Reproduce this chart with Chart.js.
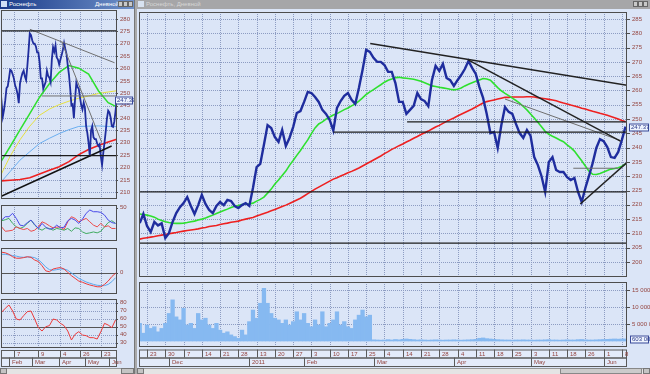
<!DOCTYPE html>
<html><head><meta charset="utf-8">
<script src="https://cdn.jsdelivr.net/npm/chart.js@4.4.1/dist/chart.umd.min.js"></script>
<style>
html,body{margin:0;padding:0}
body{width:650px;height:374px;background:#bdbdbd;position:relative;overflow:hidden;font-family:'Liberation Sans',Arial,sans-serif}
.a{position:absolute}
canvas{position:absolute}
.btn{position:absolute;top:1px;width:5px;height:6px;background:#c8c8c8;border:1px solid #666;box-sizing:border-box}
</style></head><body>
<div class="a" style="left:0;top:0;width:134px;height:368px;background:#dbe5f7"></div>
<div class="a" style="left:137px;top:0;width:513px;height:368px;background:#dbe5f7"></div>
<div class="a" style="left:134px;top:0;width:3px;height:374px;background:#a9a9a9;border-left:1px solid #777;box-sizing:border-box"></div>

<div class="a" style="left:0;top:0;width:134px;height:9px;background:linear-gradient(90deg,#1a3b8a,#6e90c8);color:#fff;font-size:6px;line-height:9px">
  <span class="a" style="left:1px;top:1px;width:6px;height:6px;background:#cfe0f6"></span>
  <span class="a" style="left:9px;top:0">Роснефть</span>
  <span class="a" style="left:95px;top:0">Дневной</span>
  <span class="btn" style="left:118px"></span><span class="btn" style="left:123px"></span><span class="btn" style="left:128px"></span>
</div>
<div class="a" style="left:137px;top:0;width:513px;height:9px;background:#a6a6a8;color:#d6d6d6;font-size:6px;line-height:9px">
  <span class="a" style="left:1px;top:1px;width:6px;height:6px;background:#d8e2f0"></span>
  <span class="a" style="left:9px;top:0">Роснефть, Дневной</span>
  <span class="btn" style="left:496px"></span><span class="btn" style="left:501px"></span><span class="btn" style="left:506px"></span>
</div>

<div class="a" style="left:0;top:368px;width:134px;height:6px;background:#e4e4e4;border-top:1px solid #999;box-sizing:border-box"></div>
<div class="a" style="left:0;top:368px;width:7px;height:6px;background:#c4c4c4;border:1px solid #777;box-sizing:border-box"></div>
<div class="a" style="left:121px;top:368px;width:13px;height:6px;background:#c4c4c4;border:1px solid #777;box-sizing:border-box"></div>
<div class="a" style="left:137px;top:368px;width:513px;height:6px;background:#e4e4e4;border-top:1px solid #999;box-sizing:border-box"></div>
<div class="a" style="left:137px;top:368px;width:7px;height:6px;background:#c4c4c4;border:1px solid #777;box-sizing:border-box"></div>
<div class="a" style="left:560px;top:368px;width:82px;height:6px;background:#cbcbcb;border:1px solid #888;box-sizing:border-box"></div>
<div class="a" style="left:643px;top:368px;width:7px;height:6px;background:#c4c4c4;border:1px solid #777;box-sizing:border-box"></div>

<canvas id="lp" width="134" height="192" style="left:0;top:9px"></canvas>
<canvas id="l1" width="134" height="40" style="left:0;top:203px"></canvas>
<canvas id="l2" width="134" height="50" style="left:0;top:246px"></canvas>
<canvas id="l3" width="134" height="71" style="left:0;top:297px"></canvas>
<canvas id="mp" width="513" height="269" style="left:137px;top:10px"></canvas>
<canvas id="mv" width="513" height="88" style="left:137px;top:280px"></canvas>

<script>
// ---------------- DATA ----------------
// trading-day index 0..133 (19 Nov 2010 .. 9 Jun 2011)
const price = [213.6,216.8,212.6,210.5,214.0,212.8,213.5,208.4,210.1,214.0,
217.1,219.2,220.6,222.7,219.6,216.8,219.9,223.5,220.3,218.2,
217.1,219.6,221.0,219.9,221.7,221.3,219.6,218.9,219.9,220.6,
219.6,225.9,233.2,234.3,241.0,247.9,246.9,243.7,242.0,246.2,
240.6,243.4,247.2,252.1,252.8,256.0,259.5,259.1,257.7,256.0,
253.2,251.8,249.7,246.0,253.9,256.3,258.1,259.1,256.7,255.3,
260.9,267.2,274.2,273.5,271.4,270.0,270.0,268.9,266.5,266.5,
262.6,256.0,256.0,251.8,253.2,254.6,259.1,257.0,256.3,254.5,
263.6,268.6,266.8,269.3,264.4,263.6,261.6,263.6,265.4,267.5,
270.3,267.9,265.8,261.2,257.4,251.8,245.1,245.5,239.9,247.9,
254.2,252.5,251.8,248.3,245.1,243.4,246.2,244.1,236.7,233.9,
230.0,224.5,235.0,236.7,232.2,231.5,231.5,229.7,228.7,229.4,
224.5,221.0,225.9,230.1,234.6,239.9,243.0,242.3,240.2,236.7,
236.4,238.5,242.7,247.37];
const maGreen = [216.8,216.6,216.4,216.1,215.7,215.0,214.5,214.1,213.8,213.6,
213.5,213.5,213.6,213.8,214.1,214.3,214.7,215.0,215.4,215.9,
216.4,217.0,217.5,218.0,218.5,219.1,219.5,219.8,220.1,220.3,
220.3,220.6,221.3,221.9,222.7,224.1,225.5,227.3,228.7,230.3,
231.8,233.8,235.5,237.3,239.0,240.9,242.7,244.9,246.9,248.3,
249.0,250.0,250.7,251.4,251.9,252.6,253.3,253.9,254.6,255.3,
256.3,257.4,258.6,259.5,260.3,261.2,262.0,262.9,263.6,264.0,
264.5,264.6,264.4,264.3,264.1,263.9,263.6,263.2,262.7,262.2,
261.6,261.4,261.1,260.9,260.7,260.4,260.2,260.4,260.9,261.6,
262.2,262.7,263.2,263.7,264.2,264.0,263.6,262.3,261.0,259.9,
259.0,258.2,257.3,256.5,255.6,254.4,253.2,251.8,250.4,248.9,
247.3,245.7,244.7,244.0,243.4,242.7,242.1,241.0,240.0,238.8,
237.1,235.4,233.6,231.8,230.7,230.6,231.0,231.5,232.0,232.5,
232.7,233.0,233.5,234.3];
const maRed = [208.0,208.3,208.5,208.7,208.9,209.2,209.4,209.6,209.9,210.1,
210.3,210.6,210.8,211.0,211.2,211.4,211.6,211.9,212.1,212.4,
212.6,212.8,213.1,213.4,213.6,213.9,214.1,214.3,214.7,215.0,
215.3,215.6,216.1,216.5,217.0,217.4,217.9,218.4,218.9,219.4,
219.9,220.5,221.1,221.7,222.3,223.1,223.9,224.7,225.5,226.2,
226.9,227.6,228.3,229.0,229.5,230.1,230.6,231.2,231.7,232.3,
232.9,233.6,234.3,235.0,235.7,236.4,237.1,237.9,238.6,239.4,
240.0,240.7,241.3,242.0,242.6,243.3,243.9,244.6,245.2,245.8,
246.5,247.2,247.8,248.5,249.2,249.8,250.4,251.1,251.7,252.3,
252.9,253.5,254.2,254.9,255.6,256.1,256.4,256.7,257.0,257.3,
257.6,257.6,257.7,257.7,257.7,257.7,257.8,257.8,257.7,257.5,
257.3,257.1,256.9,256.7,256.4,256.0,255.6,255.3,254.9,254.6,
254.2,253.8,253.5,253.1,252.7,252.4,252.0,251.7,251.3,250.9,
250.5,250.0,249.5,249.1];
// volume, thousands of shares
const volumeK = [5200,2300,4700,3700,4200,2700,3700,5200,8100,12100,
7100,6200,9600,4700,5200,3700,8100,6200,6700,4700,
3700,5200,3200,2300,2700,1800,1300,800,3200,1800,
5700,9100,6700,11100,15500,11100,8100,6700,6200,5200,
6200,4700,5700,8600,6200,8100,5200,4200,6200,4700,
8600,4200,5200,6200,8600,4700,5700,4200,3700,6200,
7600,9100,7100,7600,
350,300,250,300,400,300,450,350,500,600,
500,400,300,350,300,250,300,350,300,250,
300,300,350,300,250,300,350,400,500,800,
900,700,600,500,400,350,300,300,250,300,
300,350,300,300,250,300,300,350,400,300,
300,250,300,350,300,300,400,450,350,300,
300,350,400,450,500,550,600,550,600,603];

// drawn levels / trend lines: [day1, value1, day2, value2]
const mainLevels = [[-0.2,224.5,133.4,224.5],[-0.2,206.6,133.4,206.6],[53,245.4,133.4,245.4],[73.2,249,133.4,249]];
const mainTrends = [[63.1,276.4,133.4,261.8],[89.9,270.7,131.6,242.3],[120.6,220.3,133.2,234.6]];
const mainThin = [[100,257,131.6,242.5],[118.7,232.8,131,232.8]];

const weekDays = [2,7,12,17,22,27,32,37,42,47,52,57,62,67,72,77,82,87,92,97,102,107,112,117,122,127,132];
const weekLabels = ['23','30','7','14','21','28','13','20','27','3','10','17','25','4','14','21','28','4','11','18','25','3','11','18','26','1','8'];
const monthDays = [8,30,45,64,86,107,127];
const monthLabels = ['Dec','2011','Feb','Mar','Apr','May','Jun'];
const priceTicks = [200,205,210,215,220,225,230,235,240,245,250,255,260,265,270,275,280,285];
const volTicks = [5000000,10000000,15000000];

// left window
const leftMaDays = [38.5,46,54,62,70,78,86,94,102,110,118,126,133];
const lGreen  = [222.4,228.5,235.2,241.8,248.4,253.8,258.4,261.2,260.1,257.7,251.0,246.2,244.5];
const lRed    = [214.6,214.9,215.2,215.9,217.4,218.9,220.3,222.4,225.2,227.3,228.9,230.3,231.4];
const lYellow = [217.1,224.6,231.2,236.7,241.1,243.6,245.4,246.8,248.0,248.9,249.9,250.5,251.0];
const lBlue   = [214.1,218.4,223.0,226.4,229.7,231.8,233.7,235.3,236.6,236.7,236.8,236.6,236.5];
const leftLevels = [[38.5,275.2,133.2,275.2],[38.5,224.8,133.2,224.8]];
const leftThin = [[71.8,248.9,133.2,248.9],[62.1,275.8,131.2,262.3],[88.1,270.7,120.6,230.3]];
const leftTrends = [[37.7,208.2,128.8,228.7]];
const leftPriceTicks = [210,215,220,225,230,235,240,245,250,255,260,265,270,275,280];

const indDays = [39,42,45,48,51,54,57,60,63,66,69,72,75,78,81,84,87,90,93,96,99,102,105,108,111,114,117,120,123,126,129,132];
const dmiPlus  = [31.4,36.4,36.4,41.5,33.9,23.8,22.8,27.6,31.4,24.8,18.8,26.4,20.7,17.7,18.8,23.8,19.7,20.7,30.4,33.9,31.4,26.4,32.8,41.5,46.5,43.9,43.9,42.9,38.9,31.4,27.6,26.4];
const dmiMinus = [21.2,14.6,15.2,16.2,21.2,18.8,17.2,18.8,14.6,16.2,21.2,28.8,26.4,22.8,19.7,20.7,21.2,17.2,28.8,36.4,33.9,28.8,31.4,33.9,28.8,23.8,21.2,26.4,21.2,22.8,18.8,18.8];
const adx      = [30.4,31.9,33.9,26.4,21.2,18.8,21.2,26.4,31.4,23.8,18.8,16.2,19.7,18.8,16.2,18.8,17.7,16.2,18.8,14.6,19.7,18.8,13.6,11.2,12.2,13.6,12.2,14.6,21.2,27.6,30.4,26.4];
const macd     = [6.8,6.6,6.1,5.3,4.8,4.8,5.0,5.3,5.1,4.2,3.7,2.3,0.6,0.3,1.2,1.5,1.7,1.2,0.1,-1.0,-1.9,-2.8,-3.2,-3.7,-4.1,-4.4,-4.7,-4.7,-3.9,-2.8,-1.3,-0.2];
const signal   = [6.1,6.1,5.9,5.7,5.5,5.2,5.1,5.2,5.2,5.0,4.3,3.2,1.9,1.0,0.8,1.0,1.2,1.2,0.8,-0.1,-1.0,-1.9,-2.5,-3.1,-3.5,-3.9,-4.2,-4.3,-4.3,-3.9,-3.0,-1.7];
const rsi      = [68.0,73.0,77.1,69.6,59.6,58.4,63.8,68.8,69.6,59.6,48.8,44.6,50.0,51.3,59.6,58.4,54.2,51.3,44.6,33.4,40.5,43.8,39.6,38.8,36.3,36.3,34.6,43.8,54.2,52.1,48.8,58.4];
const leftWeekDays = [49,69,87,103,120];
const leftWeekLabels = ['7','9','4','26','23'];
const leftMonthDays = [45,64,86,107,127];
const leftMonthLabels = ['Feb','Mar','Apr','May','Jun'];

// ---------------- RENDER ----------------
const TICK = '#94443f', GRID = '#8d9cc2', FRAME = '#4d4d4d';
Chart.defaults.font.family = "'Liberation Sans', Arial, sans-serif";
Chart.defaults.font.size = 6;
Chart.defaults.animation = false;
Chart.defaults.responsive = false;
Chart.defaults.devicePixelRatio = 1;
Chart.defaults.plugins.legend.display = false;
Chart.defaults.plugins.tooltip.enabled = false;
Chart.defaults.elements.point.radius = 0;
Chart.defaults.elements.line.tension = 0;

const fmtSp = v => String(Math.round(v)).replace(/\B(?=(\d{3})+(?!\d))/g, ' ');

const deco = {
  id: 'deco',
  beforeDatasetsDraw(c, args, o) {
    const ctx = c.ctx, A = c.chartArea, X = c.scales.x, Y = c.scales.y;
    ctx.save();
    ctx.beginPath(); ctx.rect(A.left, A.top, A.right - A.left, A.bottom - A.top); ctx.clip();
    ctx.lineWidth = 1; ctx.strokeStyle = GRID; ctx.setLineDash([1, 1]);
    ctx.beginPath();
    (o.xs || []).forEach(d => { const x = Math.round(X.getPixelForValue(d)) + 0.5; ctx.moveTo(x, A.top); ctx.lineTo(x, A.bottom); });
    (o.ys || []).forEach(v => { const y = Math.round(Y.getPixelForValue(v)) + 0.5; ctx.moveTo(A.left, y); ctx.lineTo(A.right, y); });
    ctx.stroke();
    ctx.setLineDash([]); ctx.strokeStyle = '#555'; ctx.beginPath();
    (o.solidY || []).forEach(v => { const y = Math.round(Y.getPixelForValue(v)) + 0.5; ctx.moveTo(A.left, y); ctx.lineTo(A.right, y); });
    ctx.stroke();
    ctx.restore();
  },
  afterDraw(c, args, o) {
    const ctx = c.ctx, A = c.chartArea, X = c.scales.x, Y = c.scales.y;
    ctx.save();
    ctx.lineWidth = 1; ctx.strokeStyle = FRAME;
    ctx.strokeRect(A.left + 0.5, A.top + 0.5, A.right - A.left - 1, A.bottom - A.top - 1);
    ctx.beginPath();
    (o.tickMarks || []).forEach(v => { const y = Math.round(Y.getPixelForValue(v)) + 0.5; ctx.moveTo(A.right, y); ctx.lineTo(A.right + (o.tl || 3), y); });
    ctx.stroke();
    if (o.box) {
      const y = Math.round(Y.getPixelForValue(o.box.value));
      const x0 = A.right + o.box.dx;
      ctx.fillStyle = '#eef3fd'; ctx.fillRect(x0, y - 3.5, c.width - x0 - 1, 7);
      ctx.strokeStyle = '#3a4a9a'; ctx.strokeRect(x0 + 0.5, y - 3, c.width - x0 - 2, 7);
      ctx.fillStyle = '#2a3a8a'; ctx.font = "6px 'Liberation Sans'"; ctx.textBaseline = 'middle';
      ctx.fillText(o.box.text, x0 + 2, y + 0.5);
    }
    if (o.rows) {
      const r = o.rows, w = A.right - A.left;
      ctx.strokeStyle = '#5a5a5a'; ctx.fillStyle = '#e3ebfa';
      ctx.fillRect(A.left, r.y1, w, r.y3 - r.y1);
      ctx.strokeRect(A.left + 0.5, r.y1 + 0.5, w - 1, r.y2 - r.y1);
      ctx.strokeRect(A.left + 0.5, r.y2 + 0.5, w - 1, r.y3 - r.y2);
      ctx.font = "6px 'Liberation Sans'"; ctx.textBaseline = 'middle';
      ctx.beginPath();
      r.days.forEach(d => { const x = Math.round(X.getPixelForValue(d)) + 0.5; ctx.moveTo(x, r.y1); ctx.lineTo(x, r.y2); });
      r.mDays.forEach(d => { const x = Math.round(X.getPixelForValue(d)) + 0.5; ctx.moveTo(x, r.y2); ctx.lineTo(x, r.y3); });
      ctx.stroke();
      ctx.fillStyle = TICK;
      r.days.forEach((d, i) => ctx.fillText(r.labels[i], Math.round(X.getPixelForValue(d)) + 3, (r.y1 + r.y2) / 2 + 1));
      r.mDays.forEach((d, i) => ctx.fillText(r.mLabels[i], Math.round(X.getPixelForValue(d)) + 3, (r.y2 + r.y3) / 2 + 1));
    }
    ctx.restore();
  }
};
Chart.register(deco);

function seg(p, color, w) {
  return { type: 'line', data: [{ x: p[0], y: p[1] }, { x: p[2], y: p[3] }], borderColor: color, borderWidth: w, pointRadius: 0 };
}
function series(days, vals, color, w) {
  return { type: 'line', data: vals.map((v, i) => ({ x: days ? days[i] : i, y: v })), borderColor: color, borderWidth: w, pointRadius: 0 };
}
function xAxis(min, max) { return { type: 'linear', min, max, display: false, offset: false, grid: { offset: false } }; }
function yAxis(min, max, ticks, width, tl, pad, fmt) {
  return {
    type: 'linear', position: 'right', min, max,
    grid: { display: false, drawTicks: true, tickLength: tl },
    border: { display: false },
    ticks: { color: TICK, padding: pad, autoSkip: false, maxRotation: 0, callback: fmt || (v => v) },
    afterBuildTicks: s => { s.ticks = ticks.map(v => ({ value: v })); },
    afterFit: s => { s.width = width; s.paddingTop = 0; s.paddingBottom = 0; }
  };
}
function mk(id, datasets, scales, padding, deco) {
  return new Chart(document.getElementById(id), {
    type: 'line',
    data: { datasets },
    options: { parsing: true, layout: { padding }, scales, plugins: { deco } }
  });
}

// ---- main price ----
const lastPrice = price[price.length - 1];
mk('mp', [
  ...mainLevels.map(p => seg(p, '#1c1c1c', 1.2)),
  ...mainTrends.map(p => seg(p, '#222', 1.5)),
  ...mainThin.map(p => seg(p, '#6e6e6e', 1)),
  series(null, price, '#1f2d9e', 2.4),
  series(null, maGreen, '#2ee02e', 1.6),
  series(null, maRed, '#ee2020', 1.6)
], { x: xAxis(-0.2, 133.4), y: yAxis(194.76, 287.45, priceTicks, 23, 3, 2) },
{ left: 2, top: 2, right: 0, bottom: 2 },
{ xs: weekDays, ys: priceTicks, tickMarks: priceTicks, tl: 3, box: { value: lastPrice, text: lastPrice.toFixed(2), dx: 2 } });

// ---- main volume ----
const volume = volumeK.map(v => v * 1000);
new Chart(document.getElementById('mv'), {
  type: 'bar',
  data: { datasets: [{ data: volume.map((v, i) => ({ x: i, y: v })), backgroundColor: '#86b9f1', borderWidth: 0, barPercentage: 1, categoryPercentage: 1 }] },
  options: {
    layout: { padding: { left: 2, top: 2, right: 0, bottom: 21 } },
    scales: { x: xAxis(-0.2, 133.4), y: yAxis(-1765000, 17353000, volTicks, 23, 3, 2, fmtSp) },
    plugins: { deco: {
      xs: weekDays, ys: volTicks, tickMarks: volTicks, tl: 3,
      box: { value: volume[volume.length - 1], text: fmtSp(volume[volume.length - 1]), dx: 3 },
      rows: { y1: 69.5, y2: 77.5, y3: 86, days: weekDays, labels: weekLabels, mDays: monthDays, mLabels: monthLabels }
    } }
  }
});

// ---- left price ----
mk('lp', [
  ...leftLevels.map(p => seg(p, '#1c1c1c', 1.2)),
  ...leftTrends.map(p => seg(p, '#111', 1.5)),
  ...leftThin.map(p => seg(p, '#707070', 1)),
  series(null, price, '#1f2d9e', 1.8),
  series(leftMaDays, lGreen, '#2ee02e', 1.5),
  series(leftMaDays, lRed, '#ee2020', 1.6),
  series(leftMaDays, lYellow, '#e6e040', 1),
  series(leftMaDays, lBlue, '#6aaef0', 1)
], { x: xAxis(38.5, 133.2), y: yAxis(207.3, 283.6, leftPriceTicks, 17, 1, 2) },
{ left: 1, top: 1, right: 0, bottom: 2 },
{ xs: leftWeekDays, ys: leftPriceTicks, tickMarks: leftPriceTicks, tl: 1, box: { value: lastPrice, text: lastPrice.toFixed(2), dx: -2 } });

// ---- left indicators ----
mk('l1', [
  series(indDays, dmiPlus, '#4a4ae8', 1),
  series(indDays, dmiMinus, '#ec4a4a', 1),
  series(indDays, adx, '#3faa5f', 1)
], { x: xAxis(38.5, 133.2), y: yAxis(0, 54, [50], 17, 1, 2) },
{ left: 1, top: 2, right: 0, bottom: 2 },
{ xs: leftWeekDays, tickMarks: [50], tl: 1 });

mk('l2', [
  series(indDays, macd, '#ec3a3a', 1),
  series(indDays, signal, '#5aa8ee', 1)
], { x: xAxis(38.5, 133.2), y: yAxis(-7.1, 8.2, [0], 17, 1, 2) },
{ left: 1, top: 2, right: 0, bottom: 2 },
{ xs: leftWeekDays, solidY: [0], tickMarks: [0], tl: 1 });

mk('l3', [
  series(indDays, rsi, '#ec3a3a', 1)
], { x: xAxis(38.5, 133.2), y: yAxis(23.4, 84.6, [30, 40, 50, 60, 70, 80], 17, 1, 2) },
{ left: 1, top: 2, right: 0, bottom: 20 },
{ xs: leftWeekDays, ys: [30, 40, 60, 70, 80], solidY: [50], tickMarks: [30, 40, 50, 60, 70, 80], tl: 1,
  rows: { y1: 53, y2: 60.5, y3: 69, days: leftWeekDays, labels: leftWeekLabels, mDays: leftMonthDays, mLabels: leftMonthLabels } });
</script>
</body></html>
